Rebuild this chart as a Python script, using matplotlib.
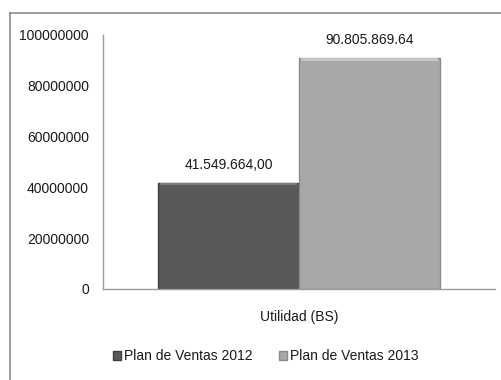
import matplotlib
matplotlib.use('Agg')
import matplotlib.pyplot as plt
from matplotlib.lines import Line2D

series = ['Plan de Ventas 2012', 'Plan de Ventas 2013']
values = [41549664.00, 90805869.64]
value_labels = ['41.549.664,00', '90.805.869.64']
category = 'Utilidad (BS)'
y_ticks = [0, 20000000, 40000000, 60000000, 80000000, 100000000]

colors = ['#595959', '#a8a8a8']
edge_colors = ['#404040', '#8a8a8a']
top_colors = ['#7a7a7a', '#c4c4c4']

plt.rcParams['font.family'] = ['Liberation Sans', 'DejaVu Sans']
fs = 10
txt = '#1a1a1a'

fig = plt.figure(figsize=(5.01, 3.80), dpi=100)
ax = fig.add_axes([103 / 501, 1 - 289 / 380, 392 / 501, 254 / 380])

# chart frame (cut off at right and bottom)
fig.add_artist(Line2D([10 / 501, 10 / 501], [0, 1 - 13 / 380], color='#8c8c8c', lw=1.2))
fig.add_artist(Line2D([10 / 501, 1], [1 - 13 / 380, 1 - 13 / 380], color='#8c8c8c', lw=1.2))

width = 0.36
offsets = [-width / 2, width / 2]
for i, (name, v) in enumerate(zip(series, values)):
    ax.bar(offsets[i], v, width=width, color=colors[i], edgecolor=edge_colors[i],
           linewidth=1, label=name, zorder=2)
    # lighter strip on top for the bevel
    ax.bar(offsets[i], v * 0.012, bottom=v * 0.988, width=width * 0.97,
           color=top_colors[i], linewidth=0, zorder=3)
    ax.annotate(value_labels[i], (offsets[i], v), xytext=(0, 8), textcoords='offset points',
                ha='center', va='bottom', fontsize=fs, color=txt)

ax.set_xlim(-0.5, 0.5)
ax.set_ylim(0, 100000000)
ax.set_yticks(y_ticks)
ax.set_yticklabels([str(t) for t in y_ticks], fontsize=fs, color=txt)
ax.set_xticks([0])
ax.set_xticklabels([category], fontsize=fs, color=txt)
ax.tick_params(axis='both', length=0)
ax.tick_params(axis='y', pad=10)
ax.tick_params(axis='x', pad=15)
for s in ['top', 'right']:
    ax.spines[s].set_visible(False)
for s in ['left', 'bottom']:
    ax.spines[s].set_color('#9a9a9a')
    ax.spines[s].set_linewidth(1)

ax.legend(loc='center', bbox_to_anchor=(0.415, -0.265), ncol=2, frameon=False,
          fontsize=fs, handlelength=0.6, handleheight=0.6, handletextpad=0.2,
          columnspacing=1.9, labelcolor=txt)

fig.savefig('out.png', dpi=100)
